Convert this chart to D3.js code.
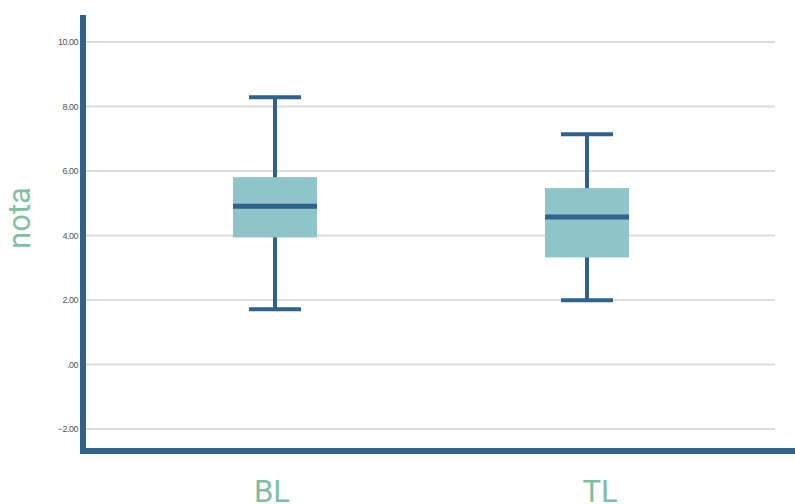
<!DOCTYPE html>
<html>
<head>
<meta charset="utf-8">
<script src="https://cdn.jsdelivr.net/npm/d3@7"></script>
<style>
  html, body { margin: 0; padding: 0; background: #fff; }
  svg { display: block; }
</style>
</head>
<body>
<svg id="chart" width="795" height="504"></svg>
<script>
// Groups and their five-number summaries
const categories = ["BL", "TL"];
const whiskerLow  = [1.71, 1.99];
const q1          = [3.94, 3.32];
const median      = [4.91, 4.57];
const q3          = [5.81, 5.47];
const whiskerHigh = [8.29, 7.14];
const yTicks = [-2, 0, 2, 4, 6, 8, 10];

const svg = d3.select("#chart");
const axisColor = "#2f628c";
const boxFill = "#8fc4ca";
const labelColor = "#7fbf9f";

const y = d3.scaleLinear().domain([-2, 10]).range([429, 42]);
const x = d3.scaleBand().domain(categories).range([119, 743]).paddingInner(0).paddingOuter(0);
// category captions sit on their own row beneath the axis
const xLabel = d3.scalePoint().domain(categories).range([272, 600]);

const fmt = v => {
  const s = d3.format(".2f")(v);
  return s.replace(/^0\./, ".").replace(/^-0\./, "-.");
};

// gridlines
svg.append("g")
  .selectAll("line")
  .data(yTicks)
  .join("line")
  .attr("x1", 86).attr("x2", 775)
  .attr("y1", d => y(d)).attr("y2", d => y(d))
  .attr("stroke", "#dcdcdc").attr("stroke-width", 2);

// y axis tick labels
const yAxis = d3.axisLeft(y).tickValues(yTicks).tickFormat(fmt).tickSize(0).tickPadding(0);
const yg = svg.append("g").attr("transform", "translate(78,0)").call(yAxis);
yg.select(".domain").remove();
yg.selectAll("text")
  .attr("font-family", "Liberation Sans, Arial, sans-serif")
  .attr("font-size", 9)
  .attr("fill", "#555")
  .attr("letter-spacing", -0.5);

// axis lines
svg.append("line").attr("x1", 83).attr("x2", 83).attr("y1", 15).attr("y2", 454)
  .attr("stroke", axisColor).attr("stroke-width", 6);
svg.append("line").attr("x1", 80).attr("x2", 795).attr("y1", 451).attr("y2", 451)
  .attr("stroke", axisColor).attr("stroke-width", 6);

// boxes
const data = categories.map((c, i) => ({
  c, lo: whiskerLow[i], q1: q1[i], med: median[i], q3: q3[i], hi: whiskerHigh[i]
}));
const boxW = 84, capW = 52;
const g = svg.append("g").selectAll("g").data(data).join("g")
  .attr("transform", d => `translate(${x(d.c) + x.bandwidth() / 2},0)`);

g.append("line").attr("x1", 0).attr("x2", 0)
  .attr("y1", d => y(d.hi)).attr("y2", d => y(d.lo))
  .attr("stroke", axisColor).attr("stroke-width", 4);
g.append("line").attr("x1", -capW / 2).attr("x2", capW / 2)
  .attr("y1", d => y(d.hi)).attr("y2", d => y(d.hi))
  .attr("stroke", axisColor).attr("stroke-width", 4);
g.append("line").attr("x1", -capW / 2).attr("x2", capW / 2)
  .attr("y1", d => y(d.lo)).attr("y2", d => y(d.lo))
  .attr("stroke", axisColor).attr("stroke-width", 4);
g.append("rect")
  .attr("x", -boxW / 2).attr("width", boxW)
  .attr("y", d => y(d.q3)).attr("height", d => y(d.q1) - y(d.q3))
  .attr("fill", boxFill);
g.append("line").attr("x1", -boxW / 2).attr("x2", boxW / 2)
  .attr("y1", d => y(d.med)).attr("y2", d => y(d.med))
  .attr("stroke", axisColor).attr("stroke-width", 5);

// category labels
svg.append("g").selectAll("text").data(categories).join("text")
  .attr("x", d => xLabel(d))
  .attr("y", 502)
  .attr("text-anchor", "middle")
  .attr("font-family", "Roboto, sans-serif")
  .attr("font-size", 31)
  .attr("fill", labelColor)
  .text(d => d);

// y axis title
svg.append("text")
  .attr("transform", "translate(30,218) rotate(-90)")
  .attr("text-anchor", "middle")
  .attr("font-family", "Roboto, sans-serif")
  .attr("font-size", 31)
  .attr("fill", labelColor)
  .text("nota");
</script>
</body>
</html>
